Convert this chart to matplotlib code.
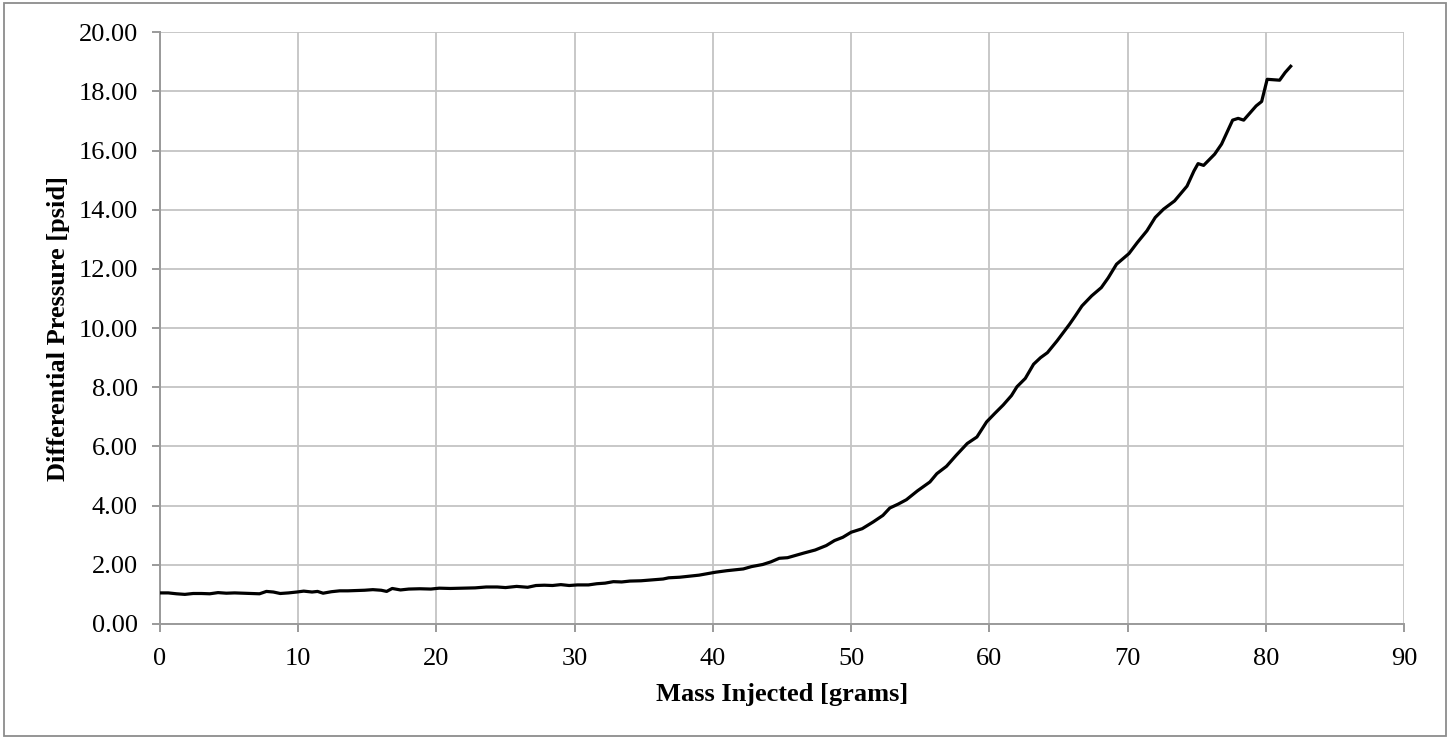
import matplotlib.pyplot as plt
from matplotlib.patches import Rectangle

plt.rcParams["font.family"] = ["Liberation Serif", "DejaVu Serif"]

# values (10 per row)
mass = [0.0, 0.6, 1.2, 1.8, 2.4, 3.0, 3.6, 4.2, 4.8, 5.4,
        6.0, 6.6, 7.2, 7.7, 8.2, 8.7, 9.3, 9.9, 10.4, 11.0,
        11.4, 11.8, 12.4, 13.0, 13.6, 14.2, 14.8, 15.4, 16.0, 16.4,
        16.8, 17.4, 18.0, 18.8, 19.6, 20.2, 21.0, 22.0, 22.8, 23.6,
        24.4, 25.0, 25.8, 26.6, 27.2, 27.8, 28.4, 29.0, 29.6, 30.2,
        31.0, 31.6, 32.2, 32.8, 33.4, 34.0, 34.8, 35.6, 36.4, 36.8,
        37.6, 38.4, 39.0, 39.6, 40.2, 41.0, 41.6, 42.2, 42.8, 43.6,
        44.2, 44.8, 45.4, 46.0, 46.6, 47.4, 48.2, 48.8, 49.4, 50.0,
        50.8, 51.6, 52.3, 52.8, 53.4, 54.0, 54.8, 55.7, 56.2, 56.9,
        57.6, 58.4, 59.1, 59.8, 60.4, 61.0, 61.6, 62.0, 62.6, 63.2,
        63.7, 64.2, 64.9, 65.8, 66.2, 66.7, 67.4, 68.1, 68.6, 69.2,
        70.1, 70.7, 71.4, 72.0, 72.6, 73.4, 74.3, 74.8, 75.1, 75.5,
        76.3, 76.8, 77.6, 78.0, 78.4, 79.3, 79.7, 80.1, 81.0, 81.4,
        81.8]
dp = [1.05, 1.05, 1.02, 1.00, 1.03, 1.03, 1.02, 1.06, 1.04, 1.05,
      1.04, 1.03, 1.02, 1.10, 1.08, 1.03, 1.05, 1.08, 1.11, 1.08,
      1.10, 1.04, 1.09, 1.12, 1.12, 1.13, 1.14, 1.16, 1.14, 1.10,
      1.20, 1.15, 1.18, 1.19, 1.18, 1.21, 1.20, 1.21, 1.22, 1.25,
      1.25, 1.23, 1.27, 1.24, 1.30, 1.31, 1.30, 1.33, 1.30, 1.32,
      1.32, 1.36, 1.38, 1.43, 1.42, 1.45, 1.46, 1.49, 1.52, 1.56,
      1.58, 1.62, 1.65, 1.70, 1.75, 1.80, 1.83, 1.86, 1.94, 2.01,
      2.10, 2.22, 2.24, 2.32, 2.40, 2.50, 2.65, 2.82, 2.93, 3.10,
      3.22, 3.45, 3.67, 3.92, 4.05, 4.20, 4.50, 4.80, 5.08, 5.33,
      5.70, 6.10, 6.32, 6.83, 7.12, 7.40, 7.72, 8.02, 8.30, 8.78,
      9.00, 9.17, 9.57, 10.13, 10.40, 10.75, 11.09, 11.37, 11.70, 12.16,
      12.52, 12.89, 13.29, 13.74, 14.02, 14.30, 14.80, 15.31, 15.56, 15.50,
      15.88, 16.22, 17.03, 17.09, 17.03, 17.51, 17.66, 18.41, 18.38, 18.64,
      18.85]

fig = plt.figure(figsize=(14.53, 7.40), dpi=100)
ax = fig.add_axes([0.1101, 0.1568, 0.8562, 0.7996])

# chart area frame
fig.patches.append(Rectangle((0.003, 0.005), 0.992, 0.991, transform=fig.transFigure,
                             fill=False, edgecolor="#8c8c8c", linewidth=1.3))

ax.plot(mass, dp, color="black", lw=2.3, zorder=3)

ax.set_xlim(0, 90)
ax.set_ylim(0, 20)
ax.set_xticks(range(0, 91, 10))
ax.set_yticks(range(0, 21, 2))
ax.set_yticklabels([f"{v:.2f}" for v in range(0, 21, 2)])
ax.grid(True, color="#c4c4c4", lw=1.3)
ax.set_axisbelow(True)

for s in ["top", "right"]:
    ax.spines[s].set_visible(False)
for s in ["left", "bottom"]:
    ax.spines[s].set_color("#9a9a9a")
    ax.spines[s].set_linewidth(1.4)
ax.tick_params(axis="both", labelsize=19, color="#9a9a9a", length=6, width=1.4)
ax.tick_params(axis="x", pad=11)
ax.tick_params(axis="y", pad=10)

ax.set_xlabel("Mass Injected [grams]", fontsize=19, fontweight="bold", labelpad=10)
ax.set_ylabel("Differential Pressure [psid]", fontsize=19, fontweight="bold", labelpad=6)

fig.savefig("out.png", dpi=100)
